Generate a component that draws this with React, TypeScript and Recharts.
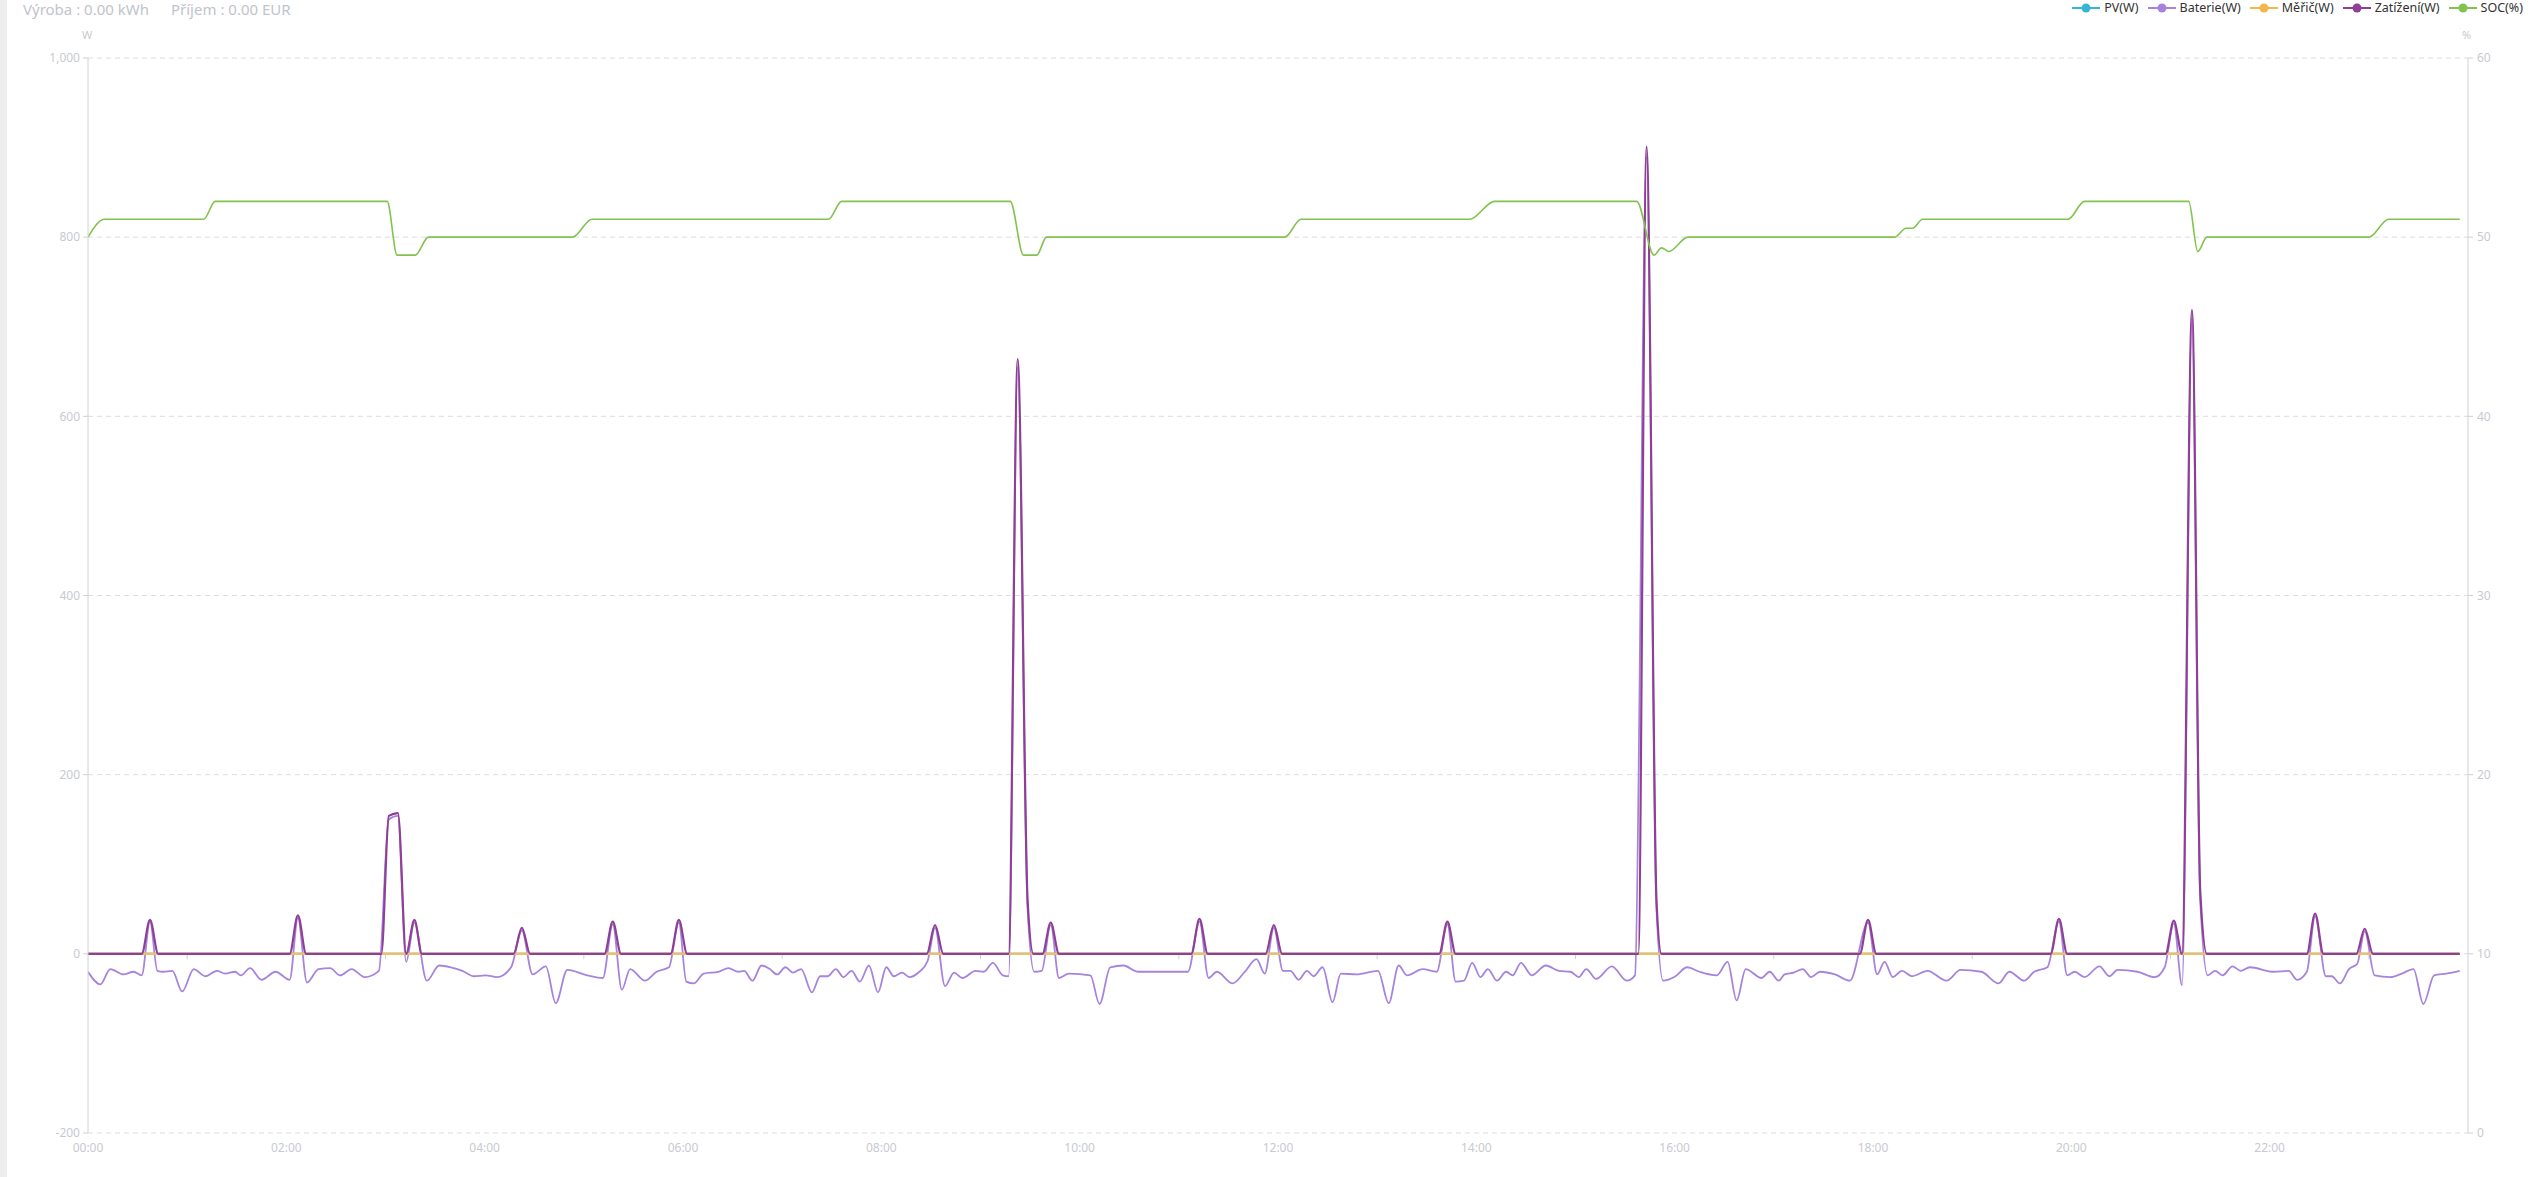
import React from 'react';
import { LineChart, Line, XAxis, YAxis, CartesianGrid, ReferenceLine } from 'recharts';

// ---- Data (time in minutes from 00:00, value) ----
const seriesNames = ['PV(W)', 'Baterie(W)', 'Měřič(W)', 'Zatížení(W)', 'SOC(%)'];
const seriesColors = ['#37b5d5', '#a684de', '#f3b64a', '#8f3f96', '#82c34f'];

const headerLabels = ['Výroba : 0.00 kWh', 'Příjem : 0.00 EUR'];

const xTicks = [0, 120, 240, 360, 480, 600, 720, 840, 960, 1080, 1200, 1320];
const xTickLabels = ['00:00', '02:00', '04:00', '06:00', '08:00', '10:00', '12:00', '14:00', '16:00', '18:00', '20:00', '22:00'];
const oddHourTicks = [60, 180, 300, 420, 540, 660, 780, 900, 1020, 1140, 1260, 1380];
const leftTicks = [-200, 0, 200, 400, 600, 800, 1000];
const rightTicks = [0, 10, 20, 30, 40, 50, 60];

const pvPoints: [number, number][] = [[0, 0], [1435, 0]];
const meterPoints: [number, number][] = [[0, 0], [1435, 0]];

const loadPoints: [number, number][] = [
  [0, 0],
  [32.5, 0], [37.5, 38], [42.5, 0],
  [122, 0], [127, 43], [132, 0],
  [177.5, 0], [182, 154], [187.5, 157], [192.5, 0], [197.5, 38], [202, 0],
  [257.5, 0], [262.5, 29], [267.5, 0],
  [312.5, 0], [317.5, 36], [322.5, 0],
  [352.5, 0], [357.5, 38], [362.5, 0],
  [507.5, 0], [512.5, 32], [517.5, 0],
  [557, 0], [562.5, 664], [568.5, 60], [572, 0],
  [577.5, 0], [582.5, 35], [587.5, 0],
  [667.5, 0], [672.5, 39], [677.5, 0],
  [712.5, 0], [717.5, 32], [722.5, 0],
  [817.5, 0], [822.5, 36], [827.5, 0],
  [938, 0], [943, 901], [949, 60], [952, 0],
  [1072, 0], [1077, 38], [1082, 0],
  [1187.5, 0], [1192.5, 39], [1197.5, 0],
  [1257, 0], [1262, 37], [1267, 0], [1273, 719], [1278, 70], [1282, 0],
  [1342.5, 0], [1347.5, 45], [1352.5, 0],
  [1372.5, 0], [1377.5, 28], [1382.5, 0],
  [1435, 0],
];

const batteryPoints: [number, number][] = [
  [0, -20], [7.5, -34], [13.5, -17], [21.5, -23], [27.5, -20], [32.5, -24], [37.5, 36], [42, -19],
  [45.5, -20], [51, -19], [57, -42], [64, -17], [71, -25], [78, -19], [83, -22], [89, -20],
  [92.5, -24], [98, -16], [105, -29], [113.5, -20], [122, -29], [127, 40], [132.5, -32], [139.5, -17],
  [146.5, -16], [152.5, -24], [159.5, -17], [167.5, -26], [176, -19], [182, 150], [187.5, 154], [192.5, -9],
  [197.5, 35], [205, -30], [212.5, -13], [219.5, -15], [226.5, -19], [233.5, -25], [240.5, -24], [247.5, -26],
  [256, -15], [262.5, 26], [269, -23], [277, -14], [283, -55], [290, -18], [302, -24], [311.5, -27],
  [317.5, 33], [323, -40], [328, -17], [337, -30], [344, -20], [351.5, -15], [357.5, 35], [362, -31],
  [366.5, -33], [372.5, -22], [381.5, -20], [387.5, -16], [393.5, -20], [397, -19], [402, -30], [407.5, -13],
  [412.5, -17], [417, -23], [422, -15], [426.5, -21], [431.5, -17], [438, -43], [443, -25], [447.5, -25],
  [452.5, -17], [457, -26], [462, -19], [467, -31], [472.5, -13], [478, -43], [483, -15], [487.5, -25],
  [492.5, -21], [497, -26], [503, -20], [508, -8], [512.5, 29], [518.5, -36], [524, -21], [529, -27],
  [537, -19], [542, -20], [547.5, -10], [553.5, -24], [557, -25], [562.5, 655], [568.5, 50], [572.5, -20],
  [577, -19], [582.5, 32], [587.5, -27], [593.5, -22], [606.5, -24], [612, -56], [618.5, -15], [626.5, -13],
  [635, -20], [665.5, -20], [672.5, 36], [678, -27], [683, -20], [692.5, -33], [699.5, -21], [707, -6],
  [712, -22], [717.5, 29], [723, -19], [727.5, -19], [732.5, -29], [737.5, -19], [741.5, -25], [747, -15],
  [753, -54], [758, -22], [767.5, -23], [780.5, -19], [787, -55], [793, -13], [798, -24], [807.5, -17],
  [816, -20], [822.5, 33], [827.5, -31], [832.5, -30], [837.5, -10], [842.5, -26], [847, -17], [852.5, -30],
  [858, -20], [862, -24], [867, -10], [873.5, -24], [882, -13], [890, -19], [897, -20], [902, -26],
  [906.5, -17], [912.5, -28], [922, -14], [931, -30], [936, -24], [943, 890], [949, 50], [953, -30],
  [960.5, -25], [967.5, -15], [975, -20], [985.5, -24], [992, -9], [997.5, -52], [1003, -17], [1012.5, -27],
  [1017.5, -20], [1023, -30], [1026.5, -23], [1032, -21], [1037.5, -17], [1042.5, -26], [1048, -20], [1057, -23],
  [1066, -30], [1077, 35], [1082.5, -23], [1087, -9], [1092, -26], [1097.5, -19], [1103.5, -25], [1113, -19],
  [1124.5, -30], [1133, -18], [1145.5, -20], [1156, -33], [1162.5, -20], [1171.5, -30], [1177.5, -20], [1185.5, -15],
  [1192.5, 36], [1197.5, -24], [1202, -20], [1208, -26], [1217, -14], [1223, -25], [1228, -18], [1240, -20],
  [1250.5, -26], [1256.5, -15], [1262, 34], [1267, -35], [1273, 710], [1278, 60], [1282.5, -24], [1287, -19],
  [1291.5, -24], [1297.5, -14], [1302.5, -19], [1308, -15], [1322.5, -20], [1331.5, -19], [1336.5, -29], [1342.5, -20],
  [1347.5, 42], [1354, -25], [1357.5, -25], [1362.5, -33], [1368, -17], [1373, -11], [1377.5, 25], [1383.5, -24],
  [1393, -26], [1400, -22], [1407, -17], [1413, -56], [1419.5, -24], [1427, -22], [1435, -19],
];

const socPoints: [number, number][] = [
  [0, 50], [10, 51], [70, 51], [77, 52], [181, 52], [187, 49], [198, 49], [206, 50],
  [293, 50], [305, 51], [448, 51], [456, 52], [558, 52], [566, 49], [574, 49], [580, 50],
  [724, 50], [734, 51], [836, 51], [851, 52], [937, 52], [947.5, 49], [952, 49.4], [956.5, 49.2],
  [968, 50], [1093, 50], [1100, 50.5], [1104, 50.5], [1110, 51], [1198, 51], [1208, 52], [1271, 52],
  [1276.5, 49.2], [1282, 50], [1380, 50], [1392, 51], [1435, 51],
];

const toRows = (pts: [number, number][]) => pts.map(([t, v]) => ({ t, v }));

const AXIS_TEXT = '#c8cad0';
const AXIS_LINE = '#cfd0d4';
const FONT = '"Noto Sans", "Open Sans", sans-serif';

function Legend() {
  return (
    <div
      style={{
        position: 'absolute',
        top: 0,
        right: 5,
        height: 16,
        display: 'flex',
        alignItems: 'center',
        fontFamily: FONT,
        fontSize: 12.5,
        color: '#333',
      }}
    >
      {seriesNames.map((name, i) => (
        <div key={name} style={{ display: 'flex', alignItems: 'center', marginLeft: i === 0 ? 0 : 9 }}>
          <svg width={28} height={12} style={{ marginRight: 4 }}>
            <line x1={0} y1={6} x2={28} y2={6} stroke={seriesColors[i]} strokeWidth={2} />
            <circle cx={14} cy={6} r={4.5} fill={seriesColors[i]} />
          </svg>
          <span style={{ lineHeight: '16px' }}>{name}</span>
        </div>
      ))}
    </div>
  );
}

export default function App() {
  return (
    <div style={{ position: 'relative', width: 2528, height: 1177, overflow: 'hidden', background: '#fff' }}>
      <style>{`body{margin:0;}`}</style>
      <div style={{ position: 'absolute', left: 0, top: 0, width: 7, height: 1177, background: '#eeeeee' }} />
      <div
        style={{
          position: 'absolute',
          left: 23,
          top: 0,
          fontFamily: FONT,
          fontSize: 15,
          lineHeight: '18px',
          color: '#c0c4cc',
          whiteSpace: 'pre',
        }}
      >
        {headerLabels[0]}
        <span style={{ marginLeft: 22 }}>{headerLabels[1]}</span>
      </div>
      <Legend />
      <div style={{ position: 'absolute', left: 82, top: 27, fontFamily: FONT, fontSize: 11, color: AXIS_TEXT }}>W</div>
      <div style={{ position: 'absolute', left: 2462, top: 27, fontFamily: FONT, fontSize: 11, color: AXIS_TEXT }}>%</div>
      <div style={{ position: 'absolute', left: 0, top: 0 }}>
        <LineChart width={2528} height={1177} margin={{ top: 58, right: 0, bottom: 14, left: 0 }}>
          <CartesianGrid
            yAxisId="left"
            vertical={false}
            stroke="#dcdde0"
            strokeDasharray="5 4"
          />
          <XAxis
            dataKey="t"
            type="number"
            domain={[0, 1440]}
            ticks={xTicks}
            tickFormatter={(v: number) => xTickLabels[xTicks.indexOf(v)]}
            axisLine={false}
            tickLine={false}
            height={30}
            tick={{ fill: AXIS_TEXT, fontSize: 12, fontFamily: FONT }}
            tickMargin={4}
            allowDataOverflow
          />
          <YAxis
            yAxisId="left"
            domain={[-200, 1000]}
            ticks={leftTicks}
            width={88}
            tickFormatter={(v: number) => v.toLocaleString('en-US')}
            axisLine={{ stroke: AXIS_LINE }}
            tickLine={{ stroke: AXIS_LINE }}
            tickSize={5}
            tickMargin={3}
            tick={{ fill: AXIS_TEXT, fontSize: 12, fontFamily: FONT }}
            allowDataOverflow
          />
          <YAxis
            yAxisId="right"
            orientation="right"
            domain={[0, 60]}
            ticks={rightTicks}
            width={60}
            axisLine={{ stroke: AXIS_LINE }}
            tickLine={{ stroke: AXIS_LINE }}
            tickSize={5}
            tickMargin={4}
            tick={{ fill: AXIS_TEXT, fontSize: 12, fontFamily: FONT }}
            allowDataOverflow
          />
          {oddHourTicks.map((t) => (
            <ReferenceLine
              key={t}
              yAxisId="left"
              segment={[{ x: t, y: 0 }, { x: t, y: -6 }]}
              stroke={AXIS_LINE}
              strokeWidth={1}
            />
          ))}
          <Line
            yAxisId="left"
            data={toRows(pvPoints)}
            dataKey="v"
            type="monotone"
            stroke={seriesColors[0]}
            strokeWidth={2}
            dot={false}
            activeDot={false}
            isAnimationActive={false}
            name={seriesNames[0]}
          />
          <Line
            yAxisId="left"
            data={toRows(batteryPoints)}
            dataKey="v"
            type="monotone"
            stroke={seriesColors[1]}
            strokeWidth={1.8}
            dot={false}
            activeDot={false}
            isAnimationActive={false}
            name={seriesNames[1]}
          />
          <Line
            yAxisId="left"
            data={toRows(meterPoints)}
            dataKey="v"
            type="monotone"
            stroke="#e9c06e"
            strokeWidth={2.5}
            dot={false}
            activeDot={false}
            isAnimationActive={false}
            name={seriesNames[2]}
          />
          <Line
            yAxisId="left"
            data={toRows(loadPoints)}
            dataKey="v"
            type="monotone"
            stroke={seriesColors[3]}
            strokeWidth={2.2}
            dot={false}
            activeDot={false}
            isAnimationActive={false}
            name={seriesNames[3]}
          />
          <Line
            yAxisId="right"
            data={toRows(socPoints)}
            dataKey="v"
            type="monotone"
            stroke={seriesColors[4]}
            strokeWidth={1.6}
            dot={false}
            activeDot={false}
            isAnimationActive={false}
            name={seriesNames[4]}
          />
        </LineChart>
      </div>
    </div>
  );
}
